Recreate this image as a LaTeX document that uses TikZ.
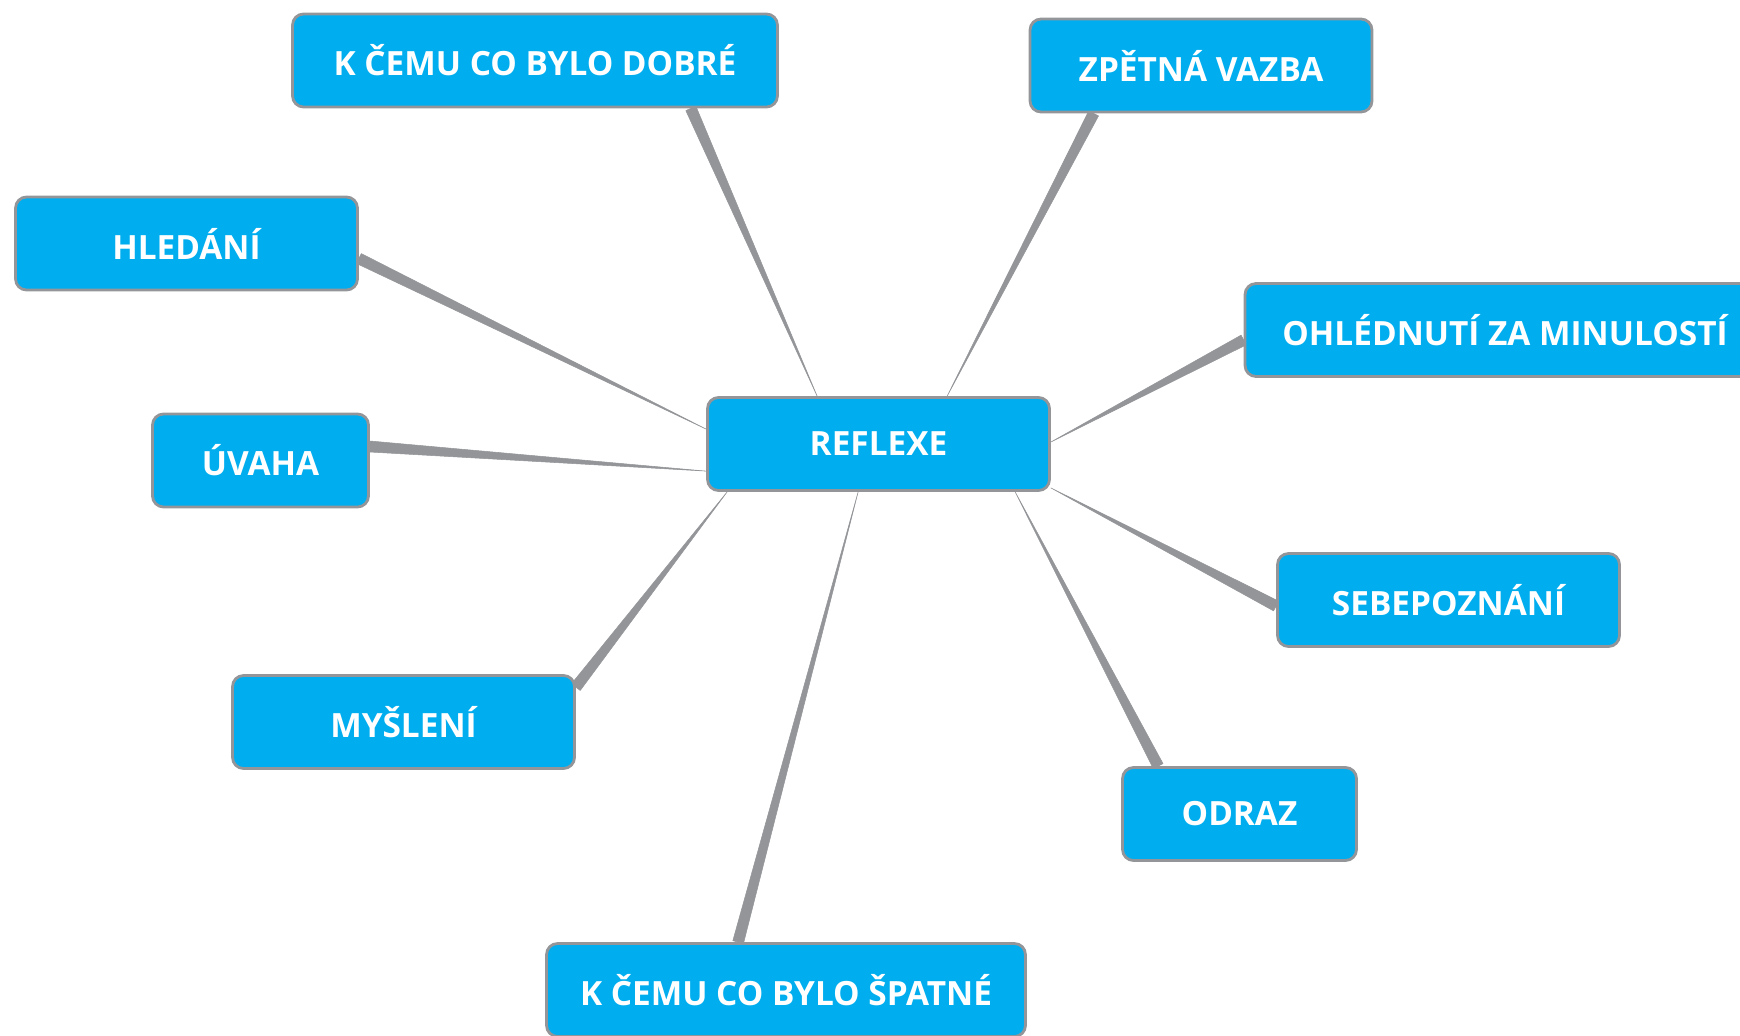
\documentclass[tikz,border=0pt]{standalone}
\usepackage{fontspec}
\setmainfont{Open Sans}
\usetikzlibrary{calc,backgrounds}

\definecolor{boxblue}{HTML}{00AEEF}
\definecolor{linkgray}{HTML}{939598}

\begin{document}
\begin{tikzpicture}[
  x=0.02cm, y=-0.02cm,
  topic/.style={draw=linkgray, line width=1.6pt, fill=boxblue, rounded corners=0.22cm,
    text=white, font=\fontsize{19}{22}\selectfont\bfseries,
    minimum width=6.84cm, minimum height=1.86cm, inner sep=0pt},
  link/.style={fill=linkgray, draw=linkgray, line width=0.3pt, line join=round}
]
\useasboundingbox (0,0) rectangle (1740,1035);

% centre and topics
\node[topic] (reflexe) at (878.5,444) {REFLEXE};
\node[topic, minimum width=9.7cm] (dobre) at (535,60.5) {K ČEMU CO BYLO DOBRÉ};
\node[topic] (zpetna) at (1201,65.5) {ZPĚTNÁ VAZBA};
\node[topic] (hledani) at (186.5,243.5) {HLEDÁNÍ};
\node[topic, minimum width=4.32cm] (uvaha) at (260.5,460.5) {ÚVAHA};
\node[topic, minimum width=10.4cm] (ohlednuti) at (1505,330) {OHLÉDNUTÍ ZA MINULOSTÍ};
\node[topic] (sebepoznani) at (1448.5,600) {SEBEPOZNÁNÍ};
\node[topic] (mysleni) at (403.5,722) {MYŠLENÍ};
\node[topic, minimum width=4.68cm] (odraz) at (1239.5,814) {ODRAZ};
\node[topic, minimum width=9.58cm] (spatne) at (786,990) {K ČEMU CO BYLO ŠPATNÉ};

% thin ends on the centre box
\coordinate (r-dobre) at ($(reflexe.north west)+(111,0)$);
\coordinate (r-zpetna) at ($(reflexe.north west)+(241,0)$);
\coordinate (r-hledani) at ($(reflexe.north west)+(0,33)$);
\coordinate (r-uvaha) at ($(reflexe.north west)+(0,75)$);
\coordinate (r-mysleni) at ($(reflexe.south west)+(21,0)$);
\coordinate (r-spatne) at ($(reflexe.south west)+(152,0)$);
\coordinate (r-odraz) at ($(reflexe.south west)+(309,0)$);
\coordinate (r-sebepoznani) at ($(reflexe.south east)+(0,-4)$);
\coordinate (r-ohlednuti) at ($(reflexe.east)+(0,-2)$);

% wide ends on the topics
\coordinate (t-dobre) at ($(dobre.south east)+(-88,0)$);
\coordinate (t-zpetna) at ($(zpetna.south west)+(65,0)$);
\coordinate (t-hledani) at ($(hledani.east)+(0,15)$);
\coordinate (t-uvaha) at ($(uvaha.east)+(0,-14)$);
\coordinate (t-mysleni) at ($(mysleni.north east)+(0,13)$);
\coordinate (t-spatne) at ($(spatne.north west)+(193,0)$);
\coordinate (t-odraz) at ($(odraz.north west)+(37,0)$);
\coordinate (t-sebepoznani) at ($(sebepoznani.west)+(0,6)$);
\coordinate (t-ohlednuti) at ($(ohlednuti.west)+(0,10)$);

% tapered links
\begin{scope}[on background layer]
  \foreach \n in {dobre,zpetna,hledani,uvaha,mysleni,spatne,odraz,sebepoznani,ohlednuti}
    \filldraw[link] (r-\n) -- ($(t-\n)!0.11cm!90:(r-\n)$) -- ($(t-\n)!0.11cm!-90:(r-\n)$) -- cycle;
\end{scope}
\end{tikzpicture}
\end{document}
